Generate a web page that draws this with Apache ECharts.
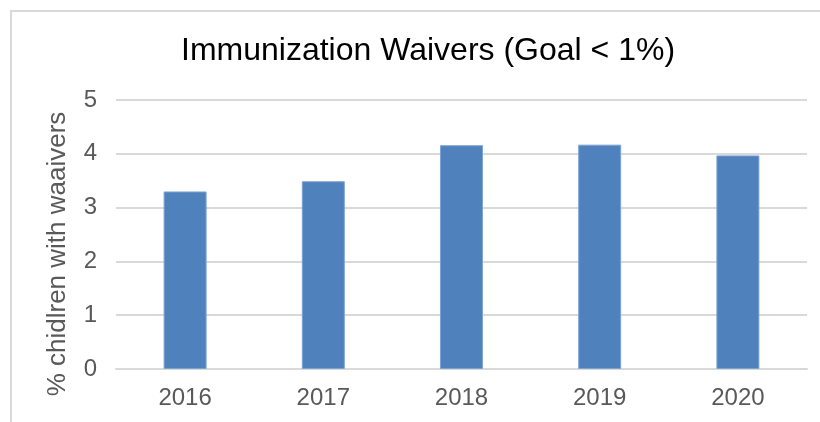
<!DOCTYPE html>
<html>
<head>
<meta charset="utf-8">
<script src="https://cdn.jsdelivr.net/npm/echarts@6/dist/echarts.min.js"></script>
<style>
  html, body { margin: 0; padding: 0; background: #fff; }
  #chart { width: 820px; height: 422px; }
</style>
</head>
<body>
<div id="chart"></div>
<script>
const years = ['2016', '2017', '2018', '2019', '2020'];
const waiverPct = [3.3, 3.49, 4.16, 4.17, 3.97];
const yTicks = [0, 1, 2, 3, 4, 5];

const font = '"Liberation Sans", Arial, sans-serif';
const chart = echarts.init(document.getElementById('chart'));

chart.setOption({
  animation: false,
  backgroundColor: '#fff',
  title: {
    text: 'Immunization Waivers (Goal < 1%)',
    left: 176,
    top: 30,
    textStyle: { fontFamily: font, fontSize: 32, fontWeight: 'normal', color: '#000' }
  },
  graphic: [
    {
      // chart border, runs off the right and bottom edges
      type: 'rect',
      shape: { x: 11, y: 11, width: 840, height: 440 },
      style: { fill: 'none', stroke: '#d9d9d9', lineWidth: 2 },
      silent: true
    },
    {
      type: 'text',
      x: 58,
      y: 254,
      rotation: Math.PI / 2,
      style: {
        text: '% chidlren with waaivers',
        font: '26px ' + font,
        fill: '#595959',
        align: 'center',
        verticalAlign: 'middle'
      }
    }
  ],
  grid: { left: 116, right: 13, top: 100, bottom: 53 },
  xAxis: {
    type: 'category',
    data: years,
    axisTick: { show: false },
    axisLine: { lineStyle: { color: '#d9d9d9', width: 2 } },
    axisLabel: { fontFamily: font, fontSize: 24, color: '#595959', margin: 17 }
  },
  yAxis: {
    type: 'value',
    min: yTicks[0],
    max: yTicks[yTicks.length - 1],
    interval: 1,
    axisLine: { show: false },
    axisTick: { show: false },
    splitLine: { lineStyle: { color: '#d9d9d9', width: 2 } },
    axisLabel: { fontFamily: font, fontSize: 24, color: '#595959', margin: 19 }
  },
  series: [{
    type: 'bar',
    data: waiverPct,
    barWidth: 43,
    itemStyle: { color: '#4f81bd', borderColor: '#7ea3d3', borderWidth: 1 }
  }]
});
</script>
</body>
</html>
